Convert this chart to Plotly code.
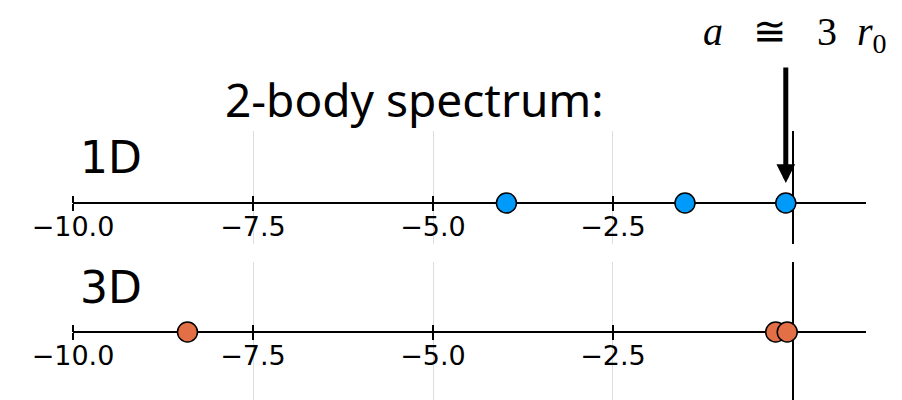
import plotly.graph_objects as go

# ---- data ----
x_1d = [-3.98, -1.50, -0.10]
x_3d = [-8.41, -0.24, -0.08]
tick_vals = [-10.0, -7.5, -5.0, -2.5]
tick_text = ["\u221210.0", "\u22127.5", "\u22125.0", "\u22122.5"]
x_range = [-10.0, 1.014]
arrow_target = x_1d[2]

blue = "#009AFA"
orange = "#E36F47"

W, H = 902, 400
fig = go.Figure()

def px_y(p):
    return 1 - p / H

fig.add_trace(go.Scatter(x=x_1d, y=[0] * len(x_1d), mode="markers", xaxis="x", yaxis="y",
                         marker=dict(size=20, color=blue, line=dict(color="black", width=1.5)),
                         hoverinfo="skip", showlegend=False))
fig.add_trace(go.Scatter(x=x_3d, y=[0] * len(x_3d), mode="markers", xaxis="x2", yaxis="y2",
                         marker=dict(size=20, color=orange, line=dict(color="black", width=1.5)),
                         hoverinfo="skip", showlegend=False))
fig.add_trace(go.Scatter(x=x_1d, y=[0] * len(x_1d), mode="markers", xaxis="x3", yaxis="y",
                         marker=dict(size=1, opacity=0), hoverinfo="skip", showlegend=False))
fig.add_trace(go.Scatter(x=x_3d, y=[0] * len(x_3d), mode="markers", xaxis="x4", yaxis="y2",
                         marker=dict(size=1, opacity=0), hoverinfo="skip", showlegend=False))

xdom = [73 / W, 866 / W]
line1 = px_y(203)
line2 = px_y(332)

common_x = dict(range=x_range, domain=xdom, tickmode="array", tickvals=tick_vals,
                fixedrange=True, zeroline=False, layer="below traces", automargin=False)
main_x = dict(common_x, ticktext=tick_text, ticks="outside", ticklen=7, tickwidth=1.5,
              tickcolor="black", showline=True, linecolor="black", linewidth=1.5,
              showgrid=True, gridcolor="#dddddd", gridwidth=1, ticklabelstandoff=-7,
              tickfont=dict(family="DejaVu Sans", size=27, color="black"), anchor="free")
top_x = dict(common_x, ticks="outside", ticklen=7, tickwidth=1.5, tickcolor="black",
             showticklabels=False, showline=False, showgrid=False, side="top", anchor="free")

fig.update_layout(
    width=W, height=H, autosize=False,
    margin=dict(l=0, r=0, t=0, b=0, pad=0),
    paper_bgcolor="white", plot_bgcolor="white",
    xaxis=dict(main_x, position=line1),
    xaxis2=dict(main_x, position=line2),
    xaxis3=dict(top_x, overlaying="x", position=line1),
    xaxis4=dict(top_x, overlaying="x2", position=line2),
    yaxis=dict(domain=[px_y(244), px_y(131)], range=[-41, 72], visible=False,
               fixedrange=True, automargin=False),
    yaxis2=dict(domain=[0, px_y(262)], range=[-68, 70], visible=False,
                fixedrange=True, automargin=False),
)

fig.add_shape(type="line", x0=0, x1=0, xref="x", yref="y domain", y0=0, y1=1,
              line=dict(color="black", width=2), layer="below")
fig.add_shape(type="line", x0=0, x1=0, xref="x2", yref="y2 domain", y0=0, y1=1,
              line=dict(color="black", width=2), layer="below")

ann = []
ann.append(dict(text="1D", x=78 / W, y=px_y(157), xref="paper", yref="paper",
                xanchor="left", yanchor="middle", showarrow=False,
                font=dict(family="DejaVu Sans", size=44, color="black")))
ann.append(dict(text="3D", x=78 / W, y=px_y(287), xref="paper", yref="paper",
                xanchor="left", yanchor="middle", showarrow=False,
                font=dict(family="DejaVu Sans", size=44, color="black")))
ann.append(dict(text="2-body spectrum:", x=414 / W, y=px_y(99), xref="paper", yref="paper",
                xanchor="center", yanchor="middle", showarrow=False,
                font=dict(family="Noto Sans", size=46, color="black")))
ann.append(dict(text="<i>a</i>&nbsp;&nbsp;&nbsp;\u2245&nbsp;&nbsp;&nbsp;3&nbsp;&nbsp;<i>r</i><sub>0</sub>",
                x=795 / W, y=px_y(34), xref="paper", yref="paper",
                xanchor="center", yanchor="middle", showarrow=False,
                font=dict(family="Liberation Serif", size=40, color="black")))
ann.append(dict(text="", x=arrow_target, y=20, xref="x", yref="y",
                showarrow=True, arrowhead=2, arrowsize=0.75, arrowwidth=5,
                arrowcolor="black", ax=0, ay=-117))
fig.update_layout(annotations=ann)

fig.write_html("out.html", config={"displayModeBar": False},
               post_script="document.body.style.margin='0';")
